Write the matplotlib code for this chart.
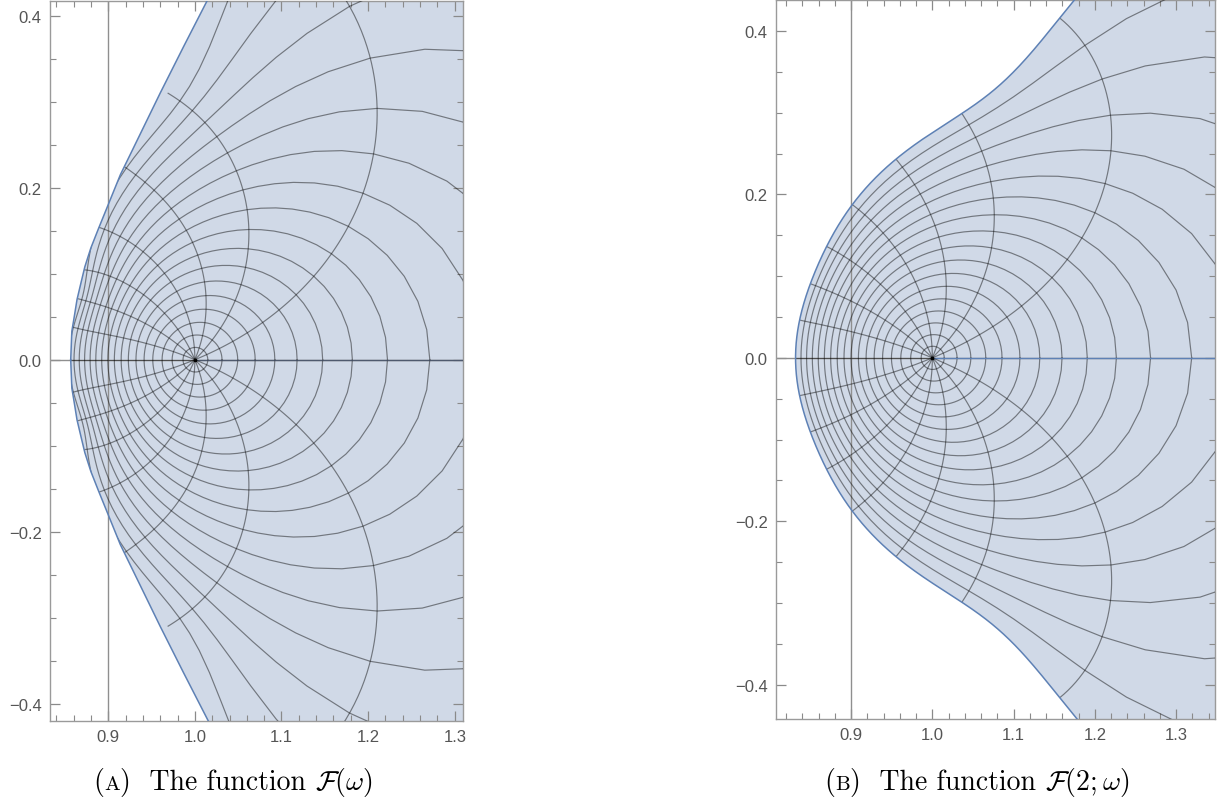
import numpy as np
import matplotlib.pyplot as plt
from matplotlib.ticker import MultipleLocator, FuncFormatter
from matplotlib.offsetbox import TextArea, HPacker, AnnotationBbox

plt.rcParams['mathtext.fontset'] = 'cm'

N_CIRC = 18          # mesh circles (the last one is the outer edge)
SPOKE_STEP = 22.5    # deg between mesh spokes

# ---------------- panel (A) : values ----------------
# where the mesh circles k = 1, 2, ... cut the real axis, right and left of 1
a_right = [1.015, 1.034, 1.054, 1.078, 1.103, 1.133, 1.168, 1.212, 1.264, 1.322]
a_left = [0.9834, 0.968, 0.956, 0.945, 0.934, 0.9255, 0.917, 0.910, 0.9035,
          0.8974, 0.8915, 0.886, 0.881, 0.876, 0.8714, 0.8668, 0.8618, 0.8567]
# where the spokes (deg) meet the outer edge
a_edge_deg = [27, 36, 45, 67.5, 90, 112.5, 135, 157.5]
a_edge_x = [1.014, 0.987, 0.960, 0.914, 0.889, 0.873, 0.864, 0.858]
a_edge_y = [0.417, 0.364, 0.310, 0.215, 0.153, 0.108, 0.070, 0.033]
# a few crossings of circle k with spoke d
a_cross_k = [10, 10]
a_cross_deg = [22.5, 45]
a_cross_x = [1.19, 1.053]
a_cross_y = [0.19, 0.198]
# outline of the region (upper half, mirrored below)
a_rim_x = [0.8567, 0.858, 0.8608, 0.864, 0.8687, 0.873, 0.880, 0.889, 0.8999,
           0.914, 0.9358, 0.960, 0.987, 1.014, 1.041]
a_rim_y = [0.0, 0.033, 0.050, 0.070, 0.090, 0.108, 0.130, 0.153, 0.180,
           0.215, 0.260, 0.310, 0.364, 0.417, 0.470]

# ---------------- panel (B) ----------------
b_right = [1.0177, 1.034, 1.0532, 1.0748, 1.0986, 1.1248, 1.1538, 1.1886,
           1.2294, 1.2785, 1.3408]
b_left = [0.9841, 0.9694, 0.956, 0.9436, 0.9321, 0.9214, 0.9115, 0.9023,
          0.8936, 0.8855, 0.8779, 0.8707, 0.8639, 0.8576, 0.8515, 0.8458,
          0.8404, 0.8353]
b_edge_deg = [22.5, 45, 67.5, 112.5, 135, 157.5]
b_edge_x = [1.165, 1.032, 0.956, 0.872, 0.852, 0.8396]
b_edge_y = [0.402, 0.292, 0.232, 0.135, 0.088, 0.043]
b_cross_k = []
b_cross_deg = []
b_cross_x = []
b_cross_y = []

fill_col = '#d0d9e7'
edge_col = '#5e81b5'
mesh_col = (0, 0, 0, 0.45)
axis_col = '#8f8f8f'
POLES = [0.6, 0.85]


def basis(z):
    z = np.asarray(z, dtype=complex)
    cols = [z, z ** 2, z ** 3] + [z / (1 - p * z) for p in POLES]
    return np.stack(cols, axis=-1)


def fit_map(right, left, e_deg, e_x, e_y, c_k, c_deg, c_x, c_y):
    # least squares for log(w) as a sum of the basis terms over the read points
    zs, ws, wt = [], [], []
    for k, v in enumerate(right, 1):
        zs.append(k / N_CIRC); ws.append(v); wt.append(1.0)
    for k, v in enumerate(left, 1):
        zs.append(-k / N_CIRC); ws.append(v); wt.append(1.0)
    for d, x, y in zip(e_deg, e_x, e_y):
        zs.append(np.exp(1j * np.radians(d))); ws.append(complex(x, y)); wt.append(2.0)
    for k, d, x, y in zip(c_k, c_deg, c_x, c_y):
        zs.append(k / N_CIRC * np.exp(1j * np.radians(d)))
        ws.append(complex(x, y)); wt.append(2.0)
    B = basis(np.array(zs))
    lw = np.log(np.array(ws, dtype=complex))
    wt = np.array(wt)[:, None]
    A = np.vstack([B.real * wt, B.imag * wt, 0.01 * np.eye(B.shape[1])])
    b = np.concatenate([lw.real * wt[:, 0], lw.imag * wt[:, 0], np.zeros(B.shape[1])])
    coef, *_ = np.linalg.lstsq(A, b, rcond=None)
    return coef


def to_xy(coef, s, theta):
    z = s * np.exp(1j * np.asarray(theta))
    w = np.exp(basis(z) @ coef)
    return w.real, w.imag


def draw_panel(ax, coef, xlim, ylim, slit_col, rim=None):
    if rim is None:
        th = np.linspace(0, 2 * np.pi, 1441)
        bx, by = to_xy(coef, 1.0, th)
    else:
        rx, ry = np.asarray(rim[0]), np.asarray(rim[1])
        bx = np.concatenate([rx[::-1], rx[1:], [2.0, 2.0]])
        by = np.concatenate([ry[::-1], -ry[1:], [-ry[-1], ry[-1]]])
    patch = ax.fill(bx, by, color=fill_col, lw=0, zorder=1)[0]
    if rim is None:
        ax.plot(bx, by, color=edge_col, lw=1.1, zorder=4)
    else:
        ax.plot(rx, ry, color=edge_col, lw=1.1, zorder=4)
        ax.plot(rx, -ry, color=edge_col, lw=1.1, zorder=4)

    ax.axvline(0.9, color=axis_col, lw=1.0, zorder=2)
    ax.axhline(0.0, color=axis_col, lw=1.0, zorder=2)

    lines = []
    t = np.linspace(0, 2 * np.pi, 97)
    for k in range(1, N_CIRC):
        x, y = to_xy(coef, k / N_CIRC, t)
        lines += ax.plot(x, y, color=mesh_col, lw=0.85, zorder=3)
    s = np.linspace(0, 1, 120)
    for d in np.arange(0, 360, SPOKE_STEP):
        x, y = to_xy(coef, s, np.full_like(s, np.radians(d)))
        if d == 0:
            lines += ax.plot(x, y, color=slit_col, lw=1.0, zorder=3)
        else:
            lines += ax.plot(x, y, color=mesh_col, lw=0.85, zorder=3)
    for ln in lines:
        ln.set_clip_path(patch)
    ax.plot([1], [0], marker='s', ms=1.5, color='black', zorder=5)

    ax.set_xlim(*xlim)
    ax.set_ylim(*ylim)
    ax.xaxis.set_major_locator(MultipleLocator(0.1))
    ax.xaxis.set_minor_locator(MultipleLocator(0.02))
    ax.yaxis.set_major_locator(MultipleLocator(0.2))
    ax.yaxis.set_minor_locator(MultipleLocator(0.05))
    fmt = FuncFormatter(lambda v, p: '{:.1f}'.format(v).replace('-', '\u2212'))
    ax.xaxis.set_major_formatter(fmt)
    ax.yaxis.set_major_formatter(fmt)
    ax.tick_params(which='both', direction='in', top=True, right=True,
                   color='#8a8a8a', labelcolor='#555555', labelsize=12,
                   pad=6)
    ax.tick_params(which='major', length=7, width=0.9)
    ax.tick_params(which='minor', length=4, width=0.8)
    for sp in ax.spines.values():
        sp.set_color('#9a9a9a')
        sp.set_linewidth(1.0)
    for lab in ax.get_xticklabels() + ax.get_yticklabels():
        lab.set_family('Liberation Sans')


def caption(fig, x, letter, formula):
    rm = dict(family='cmr10', size=20)
    parts = [TextArea('(', textprops=rm),
             TextArea(letter, textprops=dict(family='cmr10', size=15)),
             TextArea(')  The function ', textprops=rm),
             TextArea(formula, textprops=dict(size=20))]
    box = HPacker(children=parts, align='baseline', pad=0, sep=0)
    ab = AnnotationBbox(box, (x, 1 - 783 / 804), xycoords='figure fraction',
                        box_alignment=(0.5, 0.5), frameon=False)
    fig.add_artist(ab)


fig = plt.figure(figsize=(12.25, 8.04), dpi=100)
axA = fig.add_axes([50 / 1225, 82 / 804, 413 / 1225, 720 / 804])
axB = fig.add_axes([776 / 1225, 84 / 804, 439 / 1225, 719 / 804])

coefA = fit_map(a_right, a_left, a_edge_deg, a_edge_x, a_edge_y,
                a_cross_k, a_cross_deg, a_cross_x, a_cross_y)
coefB = fit_map(b_right, b_left, b_edge_deg, b_edge_x, b_edge_y,
                b_cross_k, b_cross_deg, b_cross_x, b_cross_y)

draw_panel(axA, coefA, (0.8328, 1.3095), (-0.42, 0.417), (0.25, 0.3, 0.4, 0.8),
           rim=(a_rim_x, a_rim_y))
draw_panel(axB, coefB, (0.8077, 1.3477), (-0.442, 0.438), edge_col)

caption(fig, 233 / 1225, 'A', r'$\mathcal{F}(\omega)$')
caption(fig, 977 / 1225, 'B', r'$\mathcal{F}(2;\omega)$')

fig.savefig('out.png', dpi=100)
